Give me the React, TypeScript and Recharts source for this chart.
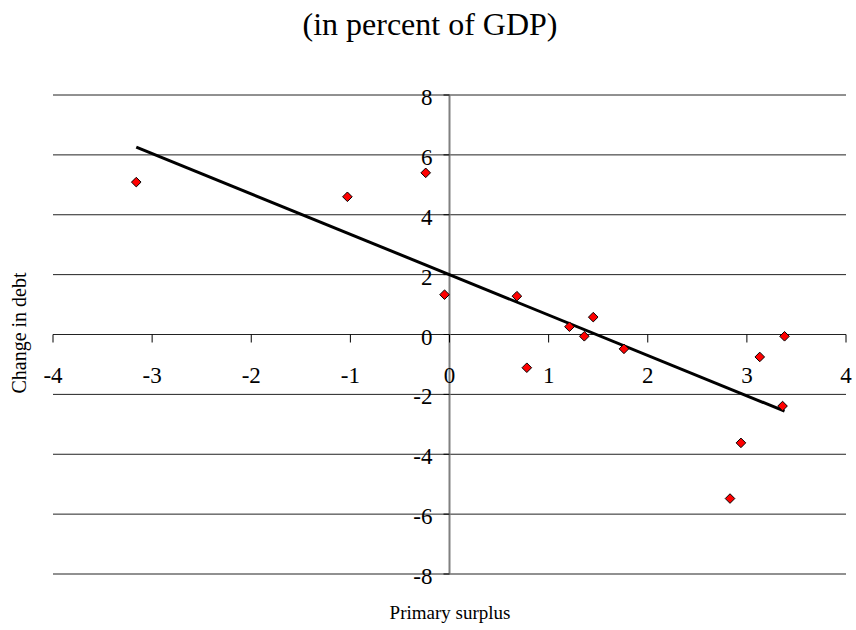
import React from 'react';
import { ScatterChart, Scatter, XAxis, YAxis, ReferenceLine, ReferenceDot } from 'recharts';

// values
const surplus = [-3.16, -1.03, -0.24, -0.05, 0.68, 0.78, 1.21, 1.36, 1.45, 1.76, 2.83, 2.94, 3.13, 3.36, 3.38];
const debtChange = [5.09, 4.6, 5.4, 1.33, 1.28, -1.11, 0.26, -0.06, 0.58, -0.48, -5.48, -3.62, -0.75, -2.39, -0.06];

const trendX = [-3.16, 3.38];
const trendY = [6.26, -2.56];

const xTicks = [-4, -3, -2, -1, 0, 1, 2, 3, 4];
const yTicks = [-8, -6, -4, -2, 0, 2, 4, 6, 8];

const FONT = '"Liberation Serif", "Times New Roman", serif';
const textStyle = { fontFamily: FONT };

const points = surplus.map((x, i) => ({ x, y: debtChange[i] }));
const trend = trendX.map((x, i) => ({ x, y: trendY[i] }));

const Diamond = (props: any) => {
  const { cx, cy } = props;
  const r = 4.8;
  return (
    <path
      d={`M${cx},${cy - r}L${cx + r},${cy}L${cx},${cy + r}L${cx - r},${cy}Z`}
      fill="#ff0000"
      stroke="#000"
      strokeWidth={1}
    />
  );
};

const XTick = (value: number) => (props: any) => {
  const { cx, cy } = props;
  return (
    <g>
      <line x1={cx} y1={cy} x2={cx} y2={cy + 8} stroke="#000" strokeWidth={1} />
      <text x={cx} y={cy + 48} textAnchor="middle" fontSize={23} style={textStyle} fill="#000">
        {value}
      </text>
    </g>
  );
};

const YTick = (value: number) => (props: any) => {
  const { cx, cy } = props;
  return (
    <g>
      <line x1={cx - 6} y1={cy} x2={cx} y2={cy} stroke="#000" strokeWidth={1} />
      <text x={cx - 17} y={cy + 10} textAnchor="end" fontSize={23} style={textStyle} fill="#000">
        {value}
      </text>
    </g>
  );
};

const App: React.FC = () => {
  return (
    <div style={{ position: 'absolute', left: 0, top: 0, width: 856, height: 630, background: '#fff' }}>
      <ScatterChart width={856} height={630} margin={{ top: 95, right: 10, bottom: 56, left: 53 }}>
        <XAxis type="number" dataKey="x" domain={[-4, 4]} allowDataOverflow hide />
        <YAxis type="number" dataKey="y" domain={[-8, 8]} allowDataOverflow hide />

        {yTicks.map((v) => (
          <ReferenceLine key={`g${v}`} y={v} stroke="#222" strokeWidth={1} />
        ))}
        <ReferenceLine x={0} stroke="#808080" strokeWidth={2} />

        {xTicks.map((v) => (
          <ReferenceDot key={`xt${v}`} x={v} y={0} r={0} shape={XTick(v)} />
        ))}
        {yTicks.map((v) => (
          <ReferenceDot key={`yt${v}`} x={0} y={v} r={0} shape={YTick(v)} />
        ))}

        <Scatter
          data={trend}
          line={{ stroke: '#000', strokeWidth: 3 }}
          shape={() => <g />}
          legendType="none"
          isAnimationActive={false}
        />
        <Scatter data={points} shape={<Diamond />} isAnimationActive={false} />
      </ScatterChart>

      <svg
        width={856}
        height={630}
        style={{ position: 'absolute', left: 0, top: 0, pointerEvents: 'none' }}
      >
        <text x={430} y={35} textAnchor="middle" fontSize={32} style={textStyle} fill="#000">
          (in percent of GDP)
        </text>
        <text
          x={26}
          y={333}
          textAnchor="middle"
          fontSize={20}
          style={textStyle}
          fill="#000"
          transform="rotate(-90, 26, 333)"
        >
          Change in debt
        </text>
        <text x={450} y={619} textAnchor="middle" fontSize={19} style={textStyle} fill="#000">
          Primary surplus
        </text>
      </svg>
    </div>
  );
};

export default App;
